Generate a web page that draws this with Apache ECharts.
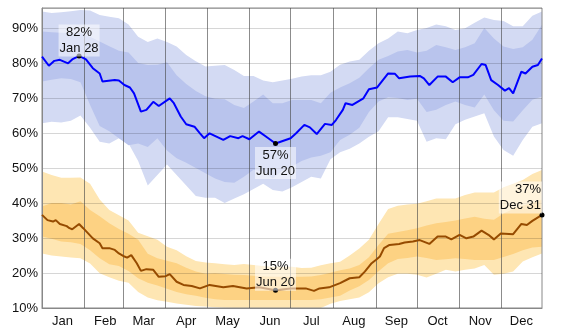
<!DOCTYPE html>
<html>
<head>
<meta charset="utf-8">
<script src="https://cdn.jsdelivr.net/npm/echarts@6/dist/echarts.min.js"></script>
<style>
  html, body { margin: 0; padding: 0; background: #fff; }
  #chart { width: 564px; height: 332px; }
</style>
</head>
<body>
<div id="chart"></div>
<script>
// humidity over the year: median line + 25-75 / 10-90 bands
var months = ['Jan','Feb','Mar','Apr','May','Jun','Jul','Aug','Sep','Oct','Nov','Dec'];
var monthLen = [31,28,31,30,31,30,31,31,30,31,30,31];

// band sample days (every 7 days, day 0 = Jan 1)
var bandDays = [0,7,14,21,28,35,42,49,56,63,70,77,84,91,98,105,112,119,126,133,140,147,154,161,168,175,182,189,196,203,210,217,224,231,238,245,252,259,266,273,280,287,294,301,308,315,322,329,336,343,350,357,364];

// blue (upper) series
var blueP90 = [94.7,94.3,94.5,94.8,95.1,95,93.7,93.2,92.8,91,87.5,86,87,86,84.7,82.3,80.5,79,79.2,79.4,78,76.3,76.3,75,74.5,75,75.5,76.1,76.5,76.5,77.5,79.5,80.4,80.9,83.5,85.6,87,89,88.5,89.4,90,91,90.5,89.4,89.9,91.5,93,92.3,92,90.5,90.5,93.5,94.7];
var blueP75 = [89,88.8,88.6,88.5,88.5,87.5,86.1,84.8,83.5,83,80,79.4,79.5,80.2,76.5,74,72,70.5,69.8,69.6,68,67.1,69,71,68.5,68.5,69.4,69.4,69.4,68.5,71.5,73,74.2,75.8,78.5,80.9,82,83.3,83.7,83,83.5,85.1,84.5,83.7,84.5,85.6,90,87,84.7,84,84.5,86.6,90.9];
var blueP25 = [74.7,75.2,75.6,75.4,74.5,68,62,60.5,58.5,56.5,57,56,58.5,55,52.8,51.5,50,48.5,47,46,45.8,47.5,49.5,49,47,49.3,50.4,52,53,53.5,54.5,58,59.5,61.5,66,69,70.2,70,69.4,69.8,66,66.6,68,69,68,67.3,71,66.5,63.5,63.3,66.5,69.5,70.4];
var blueP10 = [62.8,63.2,63,63.5,65,61.5,57.5,57,58.5,57,52,45,48,51,48,45,42,41.5,41.5,40,41.3,42.5,44,45.5,43.7,43.3,44.5,46,47.5,47,52.5,54.5,55.5,57,58.9,60.5,64.5,64.5,64,63.5,57.5,58.5,58.2,62.5,63.8,64.7,65.6,59,55.1,53.5,58,61.8,62.8];

var blueMedDays = [0,5,9,13,19,22,27,32,37,42,44,53,56,60,64,67,72,76,81,85,93,96,101,105,111,115,118,122,132,137,143,146,151,158,163,170,181,185,191,195,200,206,211,214,219,221,226,234,238,244,252,257,260,268,275,278,282,288,294,299,304,310,314,320,323,327,332,337,340,343,349,352,357,361,364];
var blueMed = [81.8,79.2,80.6,80.9,79.9,81,82,81,78.5,77,74.7,75.1,75,73.7,73,71.3,66.1,66.6,68.9,67.7,69.9,68.5,64.7,62.5,61.8,59.9,58.5,59.9,58,59.1,58.5,59.1,58.2,60.4,59,57,58.5,59.9,62.3,61.6,59.7,62.6,62.3,63.7,66.6,68.5,68,69.9,72.5,73,77,76.9,75.6,76.1,76.3,75.6,73.7,76.1,76.1,74.5,75.9,75.9,76.6,79.7,79.4,75.1,73.7,72.1,72.8,71.3,77.5,77,78.9,79.4,81.3];

// orange (lower) series
var orgP90 = [49,48,47.2,47.2,47.3,45.5,41,38,36.5,35,31.5,30.5,29.5,27.5,26.5,24.8,23.4,23,22.8,22.5,22.3,22.6,22.3,22,21.8,21.8,21.8,21.4,21.5,22.2,22.8,23.2,25,27,29.5,34,38.3,39.2,39.6,39.8,40.5,41.3,41.3,41.3,42.3,43,43,43,44.5,45.5,46.6,48.3,49.4];
var orgP75 = [39,40,40,39.6,40.5,38,36.2,34.2,32.6,31.2,29.5,25.5,24.2,23.5,22.8,21.5,20.4,19.8,19.9,19.7,19.5,19.4,19.2,19,18.9,18.9,18.9,18.9,19,19.4,20.1,20.8,21.3,22.3,24.5,28,31.2,31.7,32.2,32.8,33.6,34.2,34.6,35,35.6,36.1,35.5,35.2,37,38.3,39.2,40,40.9];
var orgP25 = [30.4,29.8,29,28.8,28.3,26.5,24.2,22.5,22,20.6,18.5,17.2,16.4,15.5,14.6,13.9,13.5,12.9,12.5,12.3,12.3,12.3,12.3,12.3,12.3,12.3,12.3,12.3,12.3,12.5,13,13.5,15,16.2,18,20.5,22.8,24,24.3,24.7,24.3,23.7,23.9,24.2,24,23.7,23.7,23.7,24.6,25.4,26.5,27.3,27.5];
var orgP10 = [25.6,25,24.7,24.4,24.2,22.7,19.9,18.8,17.8,17.2,14.6,13,12.2,11.8,11.3,10.9,10.6,10.4,10.2,10.1,10,10,10,10,10,10,10,10,10,10,11.2,12,12.5,13,14.5,17.1,18.8,19.8,19.8,19.5,18.7,19.8,20.9,20.4,20.9,21.3,22.3,19.5,19.8,20.4,23.3,24.5,25.6];

var orgMedDays = [0,4,8,10,13,18,20,22,27,30,37,42,44,49,53,56,60,62,65,69,72,76,81,85,90,93,98,103,109,115,122,132,139,149,158,170,181,192,198,202,209,217,224,231,235,240,243,246,249,253,260,264,270,275,282,288,294,298,304,309,314,320,325,329,334,343,349,353,357,364];
var orgMed = [36.6,35.1,34.7,35.1,34,33.4,32.8,32.5,34,32.8,29.9,28.5,27.1,27.1,26.6,25.6,24.7,24.4,25.1,22.8,20.6,21.1,20.9,18.9,19.1,19.7,17.5,16.6,16.3,15.6,16.6,15.9,16.3,15.6,15.9,15.1,15.6,15.6,14.9,15.6,15.9,17.1,18.5,18.8,20.4,22.8,23.7,24.7,27.1,28,28.3,28.7,29,29.4,28.3,30.4,30.4,29.6,30.9,29.9,30.4,32.1,30.9,29.6,31.3,31.1,34,33.7,34.9,36.6];

// month boundaries and label positions (day of year)
var monthStart = [];
var monthMid = [];
var acc = 0;
monthLen.forEach(function (n) {
  monthStart.push(acc);
  monthMid.push(acc + 15);
  acc += n;
});

function pairs(xs, ys) {
  return xs.map(function (x, i) { return [x, ys[i]]; });
}

// band between two percentile curves, drawn as one polygon through the axes' scales
function band(lower, upper, color) {
  return {
    type: 'custom',
    z: 1,
    silent: true,
    data: [[bandDays[0], lower[0]]],
    renderItem: function (params, api) {
      var pts = [];
      bandDays.forEach(function (d, i) { pts.push(api.coord([d, upper[i]])); });
      for (var i = bandDays.length - 1; i >= 0; i--) pts.push(api.coord([bandDays[i], lower[i]]));
      return { type: 'polygon', shape: { points: pts }, style: { fill: color } };
    }
  };
}

var labelFont = { fontFamily: 'Liberation Sans', fontSize: 13, color: '#111' };

function note(day, val, text, pos, dist, align) {
  var lbl = Object.assign({
    show: true, formatter: text, position: pos, distance: dist,
    lineHeight: 16, backgroundColor: 'rgba(255,255,255,0.55)', padding: [0, 1]
  }, labelFont);
  if (align) {
    lbl.align = align;
    lbl.rich = { r: Object.assign({ align: align, lineHeight: 16 }, labelFont) };
  }
  return { coord: [day, val], label: lbl };
}

var chart = echarts.init(document.getElementById('chart'));

var option = {
  animation: false,
  grid: { left: 42, right: 22, top: 8, bottom: 24, show: true, borderColor: '#888', borderWidth: 1, z: 3 },
  xAxis: {
    type: 'value',
    min: 0,
    max: 364,
    z: 3,
    axisLine: { lineStyle: { color: '#888' } },
    axisTick: { show: false, customValues: monthStart },
    axisLabel: Object.assign({
      customValues: monthMid,
      formatter: function (v) { return months[monthMid.indexOf(v)]; },
      margin: 7
    }, labelFont),
    splitLine: {
      show: true,
      lineStyle: { color: 'rgba(70,70,70,0.62)', width: 1 }
    }
  },
  yAxis: {
    type: 'value',
    min: 10,
    max: 95.7,
    interval: 10,
    z: 3,
    axisLine: { show: true, lineStyle: { color: '#888' } },
    axisTick: { show: false },
    axisLabel: Object.assign({
      margin: 4,
      formatter: function (v) { return v % 10 === 0 ? v + '%' : ''; }
    }, labelFont),
    splitLine: { lineStyle: { color: 'rgba(0,0,0,0.16)' } }
  },
  series: [
    band(blueP10, blueP90, '#d3daf3'),
    band(blueP25, blueP75, '#b9c4ed'),
    band(orgP10, orgP90, '#fee6b3'),
    band(orgP25, orgP75, '#fdd283'),
    {
      type: 'line', z: 4, symbol: 'none',
      data: pairs(blueMedDays, blueMed),
      lineStyle: { color: '#0000ff', width: 2 },
      markPoint: {
        symbol: 'circle', symbolSize: 5, itemStyle: { color: '#000' },
        data: [
          note(27, 82, '82%\nJan 28', 'top', -3),
          note(170, 57, '57%\nJun 20', 'bottom', 1)
        ]
      }
    },
    {
      type: 'line', z: 4, symbol: 'none',
      data: pairs(orgMedDays, orgMed),
      lineStyle: { color: '#964b00', width: 2 },
      markPoint: {
        symbol: 'circle', symbolSize: 5, itemStyle: { color: '#000' },
        data: [
          note(170, 15.1, '15%\nJun 20', 'top', -3),
          note(364, 36.6, '{r|37%}\n{r|Dec 31}', 'top', -1, 'right')
        ]
      }
    }
  ]
};

chart.setOption(option);
</script>
</body>
</html>
